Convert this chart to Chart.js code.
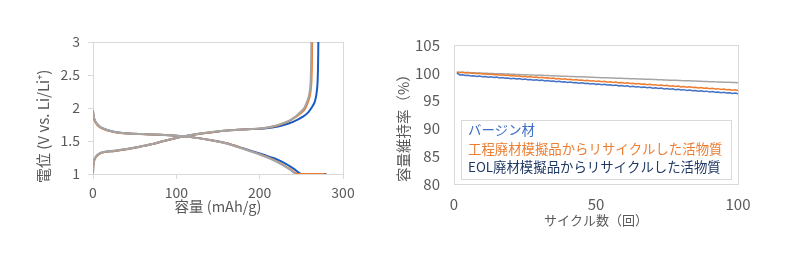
<!DOCTYPE html>
<html>
<head>
<meta charset="utf-8">
<script src="https://cdn.jsdelivr.net/npm/chart.js@4/dist/chart.umd.min.js"></script>
<style>
  body { margin: 0; background: #fff; width: 800px; height: 261px; overflow: hidden; position: relative; }
  .panel { position: absolute; top: 0; height: 261px; }
</style>
</head>
<body>
<div class="panel" style="left:0;width:370px"><canvas id="voltChart" width="370" height="261"></canvas></div>
<div class="panel" style="left:370px;width:430px"><canvas id="cycleChart" width="430" height="261"></canvas></div>
<script>
// ---- left: charge / discharge curves (capacity mAh/g, voltage V)
const virginDisCap = [0, 0.5, 1.5, 4, 8, 12, 20, 30, 42, 60, 80, 100, 120, 140, 160, 180, 200, 212, 222, 232, 242, 250, 280];
const virginDisV   = [1.95, 1.89, 1.83, 1.77, 1.72, 1.69, 1.655, 1.63, 1.615, 1.605, 1.595, 1.58, 1.555, 1.515, 1.465, 1.39, 1.31, 1.26, 1.215, 1.15, 1.07, 1.0, 1.0];
const virginChgCap = [0, 0.3, 1, 3.5, 8, 15, 26, 40, 55, 70, 85, 100, 115, 130, 150, 170, 190, 205, 215, 228, 240, 252, 258, 263, 266, 268, 269.3, 270, 270.4];
const virginChgV   = [1.0, 1.12, 1.19, 1.26, 1.31, 1.335, 1.35, 1.375, 1.41, 1.45, 1.5, 1.545, 1.585, 1.615, 1.645, 1.665, 1.68, 1.69, 1.705, 1.74, 1.79, 1.87, 1.93, 2.02, 2.09, 2.2, 2.35, 2.6, 3.0];

const processDisCap = [0, 0.5, 1.5, 4, 8, 12, 20, 30, 42, 60, 80, 100, 120, 140, 160, 180, 200, 215, 228, 238, 245, 278];
const processDisV   = [1.97, 1.90, 1.83, 1.76, 1.71, 1.685, 1.65, 1.625, 1.612, 1.603, 1.594, 1.58, 1.555, 1.515, 1.465, 1.385, 1.30, 1.225, 1.14, 1.06, 1.0, 1.0];
const processChgCap = [0, 0.3, 1, 3.5, 8, 15, 26, 40, 55, 70, 85, 100, 115, 130, 150, 170, 190, 205, 215, 225, 235, 243, 249, 254, 257, 260, 261.8, 262.6, 263];
const processChgV   = [1.0, 1.12, 1.19, 1.26, 1.31, 1.335, 1.35, 1.375, 1.41, 1.45, 1.5, 1.545, 1.585, 1.615, 1.645, 1.665, 1.68, 1.695, 1.715, 1.75, 1.8, 1.86, 1.92, 1.98, 2.06, 2.17, 2.33, 2.6, 3.0];

const eolDisCap = [0, 0.5, 1.5, 4, 8, 12, 20, 30, 42, 60, 80, 100, 120, 140, 160, 180, 200, 215, 228, 237, 243];
const eolDisV   = [1.96, 1.90, 1.84, 1.77, 1.72, 1.69, 1.655, 1.63, 1.615, 1.605, 1.595, 1.58, 1.555, 1.515, 1.463, 1.382, 1.295, 1.22, 1.135, 1.06, 1.0];
const eolChgCap = [0, 0.3, 1, 3.5, 8, 15, 26, 40, 55, 70, 85, 100, 115, 130, 150, 170, 190, 205, 215, 225, 235, 243, 248, 253, 256, 259, 260.8, 261.6, 262];
const eolChgV   = [1.0, 1.13, 1.2, 1.265, 1.315, 1.34, 1.355, 1.378, 1.412, 1.452, 1.502, 1.547, 1.587, 1.617, 1.647, 1.667, 1.682, 1.698, 1.72, 1.755, 1.805, 1.87, 1.93, 1.99, 2.07, 2.18, 2.33, 2.6, 3.0];

// ---- right: capacity retention (%) per cycle
const cycles = [1,2,3,4,5,6,7,8,9,10,11,12,13,14,15,16,17,18,19,20,21,22,23,24,25,26,27,28,29,30,31,32,33,34,35,36,37,38,39,40,41,42,43,44,45,46,47,48,49,50,51,52,53,54,55,56,57,58,59,60,61,62,63,64,65,66,67,68,69,70,71,72,73,74,75,76,77,78,79,80,81,82,83,84,85,86,87,88,89,90,91,92,93,94,95,96,97,98,99,100];
const virginRet = [100.00,99.60,99.64,99.50,99.55,99.42,99.48,99.35,99.42,99.28,99.35,99.22,99.30,99.15,99.22,99.08,99.15,99.02,99.08,98.94,99.02,98.88,98.95,98.80,98.88,98.74,98.80,98.67,98.74,98.60,98.68,98.54,98.60,98.47,98.54,98.40,98.47,98.33,98.40,98.27,98.33,98.20,98.27,98.13,98.20,98.06,98.13,98.00,98.06,97.92,98.00,97.85,97.92,97.79,97.86,97.71,97.79,97.65,97.72,97.58,97.65,97.51,97.59,97.45,97.51,97.38,97.45,97.31,97.38,97.24,97.31,97.18,97.25,97.10,97.18,97.04,97.11,96.97,97.04,96.90,96.97,96.83,96.90,96.76,96.83,96.70,96.77,96.62,96.70,96.56,96.62,96.49,96.56,96.42,96.49,96.36,96.42,96.29,96.35,96.22];
const processRet = [100.12,100.03,100.10,99.97,100.03,99.90,99.97,99.83,99.90,99.77,99.84,99.70,99.77,99.64,99.71,99.57,99.64,99.51,99.58,99.44,99.51,99.37,99.45,99.31,99.38,99.24,99.31,99.18,99.25,99.11,99.18,99.05,99.12,98.98,99.05,98.91,98.99,98.85,98.92,98.78,98.85,98.72,98.79,98.65,98.72,98.59,98.66,98.52,98.59,98.45,98.53,98.39,98.46,98.32,98.39,98.26,98.33,98.19,98.26,98.13,98.20,98.06,98.13,97.99,98.07,97.93,98.00,97.86,97.93,97.80,97.87,97.73,97.80,97.67,97.74,97.60,97.67,97.53,97.61,97.47,97.54,97.40,97.47,97.34,97.41,97.27,97.34,97.21,97.28,97.14,97.21,97.07,97.15,97.01,97.08,96.94,97.01,96.88,96.95,96.82];
const eolRet = [100.12,100.10,100.08,100.06,100.04,100.02,100.01,99.98,99.97,99.94,99.93,99.90,99.89,99.86,99.85,99.82,99.81,99.78,99.77,99.75,99.73,99.71,99.69,99.67,99.66,99.63,99.62,99.59,99.58,99.55,99.54,99.52,99.50,99.48,99.46,99.44,99.43,99.40,99.39,99.36,99.35,99.33,99.31,99.29,99.27,99.25,99.24,99.21,99.20,99.17,99.16,99.13,99.12,99.10,99.08,99.06,99.04,99.02,99.01,98.98,98.97,98.94,98.93,98.91,98.89,98.87,98.85,98.83,98.82,98.79,98.78,98.75,98.74,98.72,98.70,98.68,98.66,98.64,98.63,98.60,98.59,98.56,98.55,98.53,98.51,98.49,98.47,98.45,98.44,98.41,98.40,98.37,98.36,98.34,98.32,98.30,98.28,98.26,98.25,98.22];

const legendNames = ["バージン材", "工程廃材模擬品からリサイクルした活物質", "EOL廃材模擬品からリサイクルした活物質"];
const legendColors = ["#3f6fc4", "#ed7d31", "#203864"];

const FONT = '"Noto Sans CJK JP", "Noto Sans", sans-serif';
const TEXT = "#595959";
const LINE = "#d9d9d9";
Chart.defaults.font.family = FONT;
Chart.defaults.color = TEXT;

function pts(xs, ys) {
  return xs.map((x, i) => ({ x: x, y: ys[i] }));
}

// light box round the plot area
const frame = {
  id: "frame",
  beforeDatasetsDraw(chart) {
    const { ctx, chartArea: a } = chart;
    ctx.save();
    ctx.strokeStyle = LINE;
    ctx.lineWidth = 1;
    ctx.strokeRect(Math.round(a.left) + 0.5, Math.round(a.top) + 0.5, Math.round(a.right - a.left), Math.round(a.bottom - a.top));
    ctx.restore();
  }
};

// rotated y-axis title, sitting a bit lower than centre like the original
function sideTitle(text, size, x, below) {
  return {
    id: "sideTitle",
    afterDraw(chart) {
      const ctx = chart.ctx;
      ctx.save();
      ctx.translate(x, chart.chartArea.bottom + below);
      ctx.rotate(-Math.PI / 2);
      ctx.font = size + "px " + FONT;
      ctx.fillStyle = TEXT;
      ctx.textAlign = "left";
      ctx.textBaseline = "middle";
      ctx.fillText(text, 0, 0);
      ctx.restore();
    }
  };
}

// text-only legend inside a white box
const boxLegend = {
  id: "boxLegend",
  afterDatasetsDraw(chart) {
    const { ctx, chartArea: a } = chart;
    const x = Math.round(a.left) + 7, y = Math.round(a.top) + 75, w = 270, h = 59;
    ctx.save();
    ctx.fillStyle = "#fff";
    ctx.fillRect(x, y, w, h);
    ctx.strokeStyle = LINE;
    ctx.strokeRect(x + 0.5, y + 0.5, w, h);
    ctx.font = "13.4px " + FONT;
    ctx.textBaseline = "middle";
    legendNames.forEach((t, i) => {
      ctx.fillStyle = legendColors[i];
      ctx.fillText(t, x + 7, y + 10 + i * 18.7);
    });
    ctx.restore();
  }
};

function curve(data, color, order) {
  return { data: data, borderColor: color, borderWidth: 2, pointRadius: 0, showLine: true, tension: 0.3, order: order };
}

new Chart(document.getElementById("voltChart"), {
  type: "scatter",
  data: {
    datasets: [
      curve(pts(virginDisCap, virginDisV), "#1a5bbf", 3),
      curve(pts(virginChgCap, virginChgV), "#1a5bbf", 3),
      curve(pts(processDisCap, processDisV), "#ed7d31", 2),
      curve(pts(processChgCap, processChgV), "#ed7d31", 2),
      curve(pts(eolDisCap, eolDisV), "#a5a5a5", 1),
      curve(pts(eolChgCap, eolChgV), "#a5a5a5", 1)
    ]
  },
  options: {
    responsive: false,
    animation: false,
    layout: { padding: { left: 30, top: 42, right: 27, bottom: 42 } },
    plugins: { legend: { display: false }, tooltip: { enabled: false } },
    scales: {
      x: {
        min: 0, max: 300,
        ticks: { stepSize: 100, font: { size: 14 }, color: TEXT, padding: 5 },
        grid: { drawOnChartArea: false, tickLength: 5, color: LINE },
        border: { color: LINE },
        title: { display: true, text: "容量 (mAh/g)", font: { size: 14.5 }, color: TEXT },
        afterFit(s) { s.height = 45; }
      },
      y: {
        min: 1, max: 3,
        ticks: { stepSize: 0.5, font: { size: 14 }, color: TEXT, padding: 8, callback: v => String(v) },
        grid: { drawOnChartArea: false, tickLength: 5, color: LINE },
        border: { color: LINE },
        afterFit(s) { s.width = 63; }
      }
    }
  },
  plugins: [frame, sideTitle("電位 (V vs. Li/Li⁺)", 15, 43, 9)]
});

function retention(values, color) {
  return { data: pts(cycles, values), borderColor: color, borderWidth: 1.5, pointRadius: 0, showLine: true, tension: 0 };
}

new Chart(document.getElementById("cycleChart"), {
  type: "scatter",
  data: {
    datasets: [
      retention(virginRet, "#4472c4"),
      retention(processRet, "#ed7d31"),
      retention(eolRet, "#a5a5a5")
    ]
  },
  options: {
    responsive: false,
    animation: false,
    layout: { padding: { left: 20, top: 45, right: 62, bottom: 29 } },
    plugins: { legend: { display: false }, tooltip: { enabled: false } },
    scales: {
      x: {
        min: 0, max: 100,
        ticks: { stepSize: 50, font: { size: 15 }, color: TEXT, padding: 11 },
        grid: { display: false, drawTicks: false },
        border: { color: LINE },
        title: { display: true, text: "サイクル数（回）", font: { size: 13 }, color: TEXT },
        afterFit(s) { s.height = 48; }
      },
      y: {
        min: 80, max: 105,
        ticks: { stepSize: 5, font: { size: 15 }, color: TEXT, padding: 14 },
        grid: { display: false, drawTicks: false },
        border: { color: LINE },
        afterFit(s) { s.width = 64; }
      }
    }
  },
  plugins: [frame, boxLegend, sideTitle("容量維持率（%）", 14.5, 33, -2)]
});
</script>
</body>
</html>
